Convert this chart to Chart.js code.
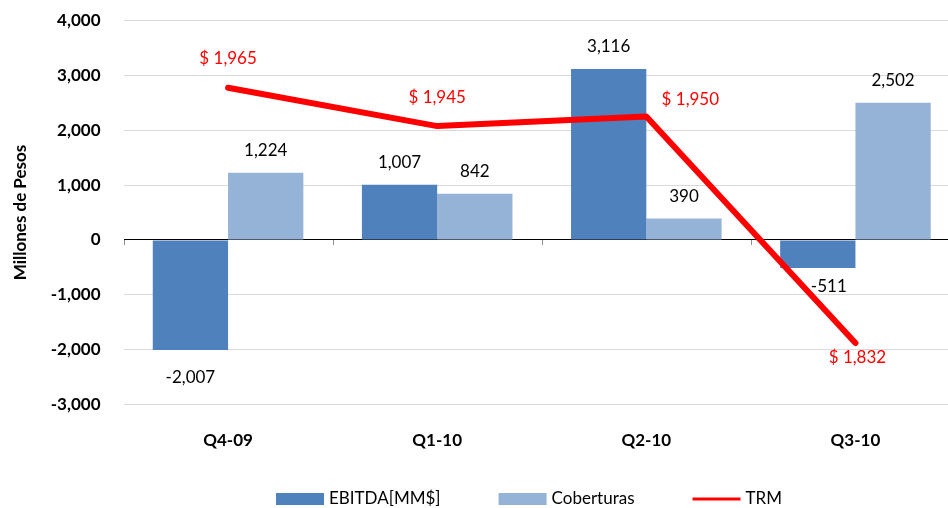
<!DOCTYPE html>
<html>
<head>
<meta charset="utf-8">
<script src="https://cdn.jsdelivr.net/npm/chart.js@4.4.1/dist/chart.umd.min.js"></script>
<style>
  html, body { margin: 0; padding: 0; background: #fff; }
  #wrap { width: 948px; height: 508px; overflow: hidden; }
</style>
</head>
<body>
<div id="wrap"><canvas id="chart" width="960" height="508"></canvas></div>
<script>
// Data
const quarters = ['Q4-09', 'Q1-10', 'Q2-10', 'Q3-10'];
const ebitda = [-2007, 1007, 3116, -511];
const coberturas = [1224, 842, 390, 2502];
const trm = [1965, 1945, 1950, 1832];

const BLUE = '#4F81BD';
const LIGHT_BLUE = '#95B3D7';
const RED = '#FF0000';
const FONT = 'Lato, "Open Sans", sans-serif';

const fmt = v => v.toLocaleString('en-US');

// label nudges (dx, dy) - Excel moved a few of them around
const trmLabelOffsets = [[0, -29], [0, -29], [44, -17], [2, 14]];
const ebitdaLabelOffsets = [[0, 27], [0, -22], [0, -22], [11, 19]];
const cobLabelOffsets = [[0, -22], [0, -22], [0, -22], [0, -22]];

const labelsPlugin = {
    id: 'valueLabels',
    afterDatasetsDraw(chart) {
        const ctx = chart.ctx;
        ctx.save();
        ctx.font = '17px ' + FONT;
        ctx.textAlign = 'center';
        ctx.textBaseline = 'middle';

        // bar values
        [[1, ebitdaLabelOffsets], [2, cobLabelOffsets]].forEach(([di, offs]) => {
            const meta = chart.getDatasetMeta(di);
            const values = chart.data.datasets[di].data;
            meta.data.forEach((bar, i) => {
                const off = offs[i];
                ctx.fillStyle = '#000';
                ctx.fillText(fmt(values[i]), bar.x + off[0], bar.y + off[1]);
            });
        });

        // TRM values
        const lineMeta = chart.getDatasetMeta(0);
        lineMeta.data.forEach((pt, i) => {
            const off = trmLabelOffsets[i];
            ctx.fillStyle = RED;
            ctx.fillText('$ ' + fmt(trm[i]), pt.x + off[0], pt.y + off[1]);
        });
        ctx.restore();
    },
    afterDraw(chart) {
        const ctx = chart.ctx;
        const x = chart.scales.x;
        const y = chart.scales.y;
        const zero = y.getPixelForValue(0);

        // little tick marks under the zero line, at category boundaries
        ctx.save();
        ctx.strokeStyle = '#8c8c8c';
        ctx.lineWidth = 1;
        const step = (x.right - x.left) / quarters.length;
        for (let i = 0; i <= quarters.length; i++) {
            const px = Math.round(x.left + i * step) + 0.5;
            ctx.beginPath();
            ctx.moveTo(px, zero);
            ctx.lineTo(px, zero + 5);
            ctx.stroke();
        }

        // legend
        const items = [
            { label: chart.data.datasets[1].label, color: BLUE, kind: 'box' },
            { label: chart.data.datasets[2].label, color: LIGHT_BLUE, kind: 'box' },
            { label: chart.data.datasets[0].label, color: RED, kind: 'line' }
        ];
        ctx.font = '17px ' + FONT;
        ctx.textBaseline = 'middle';
        ctx.textAlign = 'left';
        const boxW = 48, gapText = 5, gapItem = 58;
        const widths = items.map(it => boxW + gapText + ctx.measureText(it.label).width);
        const total = widths.reduce((a, b) => a + b, 0) + gapItem * (items.length - 1);
        let lx = 529 - total / 2;
        const ly = 499;
        items.forEach((it, i) => {
            if (it.kind === 'box') {
                ctx.fillStyle = it.color;
                ctx.fillRect(lx, ly - 6, boxW, 12);
            } else {
                ctx.strokeStyle = it.color;
                ctx.lineWidth = 3;
                ctx.beginPath();
                ctx.moveTo(lx, ly);
                ctx.lineTo(lx + boxW, ly);
                ctx.stroke();
            }
            ctx.fillStyle = '#000';
            ctx.fillText(it.label, lx + boxW + gapText, ly);
            lx += widths[i] + gapItem;
        });
        ctx.restore();
    }
};

new Chart(document.getElementById('chart'), {
    data: {
        labels: quarters,
        datasets: [
            {
                type: 'line',
                label: 'TRM',
                data: trm,
                yAxisID: 'y2',
                borderColor: RED,
                backgroundColor: RED,
                borderWidth: 6,
                borderCapStyle: 'round',
                borderJoinStyle: 'round',
                pointRadius: 0,
                tension: 0,
                order: 0
            },
            {
                type: 'bar',
                label: 'EBITDA[MM$]',
                data: ebitda,
                backgroundColor: BLUE,
                categoryPercentage: 0.72,
                barPercentage: 1,
                order: 1
            },
            {
                type: 'bar',
                label: 'Coberturas',
                data: coberturas,
                backgroundColor: LIGHT_BLUE,
                categoryPercentage: 0.72,
                barPercentage: 1,
                order: 2
            }
        ]
    },
    options: {
        responsive: false,
        animation: false,
        layout: { padding: { top: 20.5, right: 0, bottom: 0, left: 0 } },
        plugins: {
            legend: { display: false },
            tooltip: { enabled: false }
        },
        scales: {
            x: {
                grid: { display: false, drawTicks: false },
                border: { display: false },
                ticks: {
                    color: '#000',
                    padding: 26,
                    font: { family: FONT, size: 17, weight: 'bold' }
                },
                afterFit(scale) { scale.height = 103.5; }
            },
            y: {
                min: -3000,
                max: 4000,
                border: { display: false },
                grid: {
                    drawTicks: false,
                    color: ctx => ctx.tick && ctx.tick.value === 0 ? '#000' : '#d9d9d9',
                    lineWidth: 1
                },
                ticks: {
                    stepSize: 1000,
                    color: '#000',
                    padding: 23,
                    font: { family: FONT, size: 17, weight: 'bold' },
                    callback: v => fmt(v)
                },
                title: {
                    display: true,
                    text: 'Millones de Pesos',
                    color: '#000',
                    font: { family: FONT, size: 17, weight: 'bold' },
                    padding: { top: 10, bottom: 0 }
                },
                afterFit(scale) {
                    scale.width = 123.5;
                    scale.paddingTop = 0;
                    scale.paddingBottom = 0;
                }
            },
            y2: {
                display: false,
                position: 'right',
                min: 1800,
                max: 2000
            }
        }
    },
    plugins: [labelsPlugin]
});
</script>
</body>
</html>
